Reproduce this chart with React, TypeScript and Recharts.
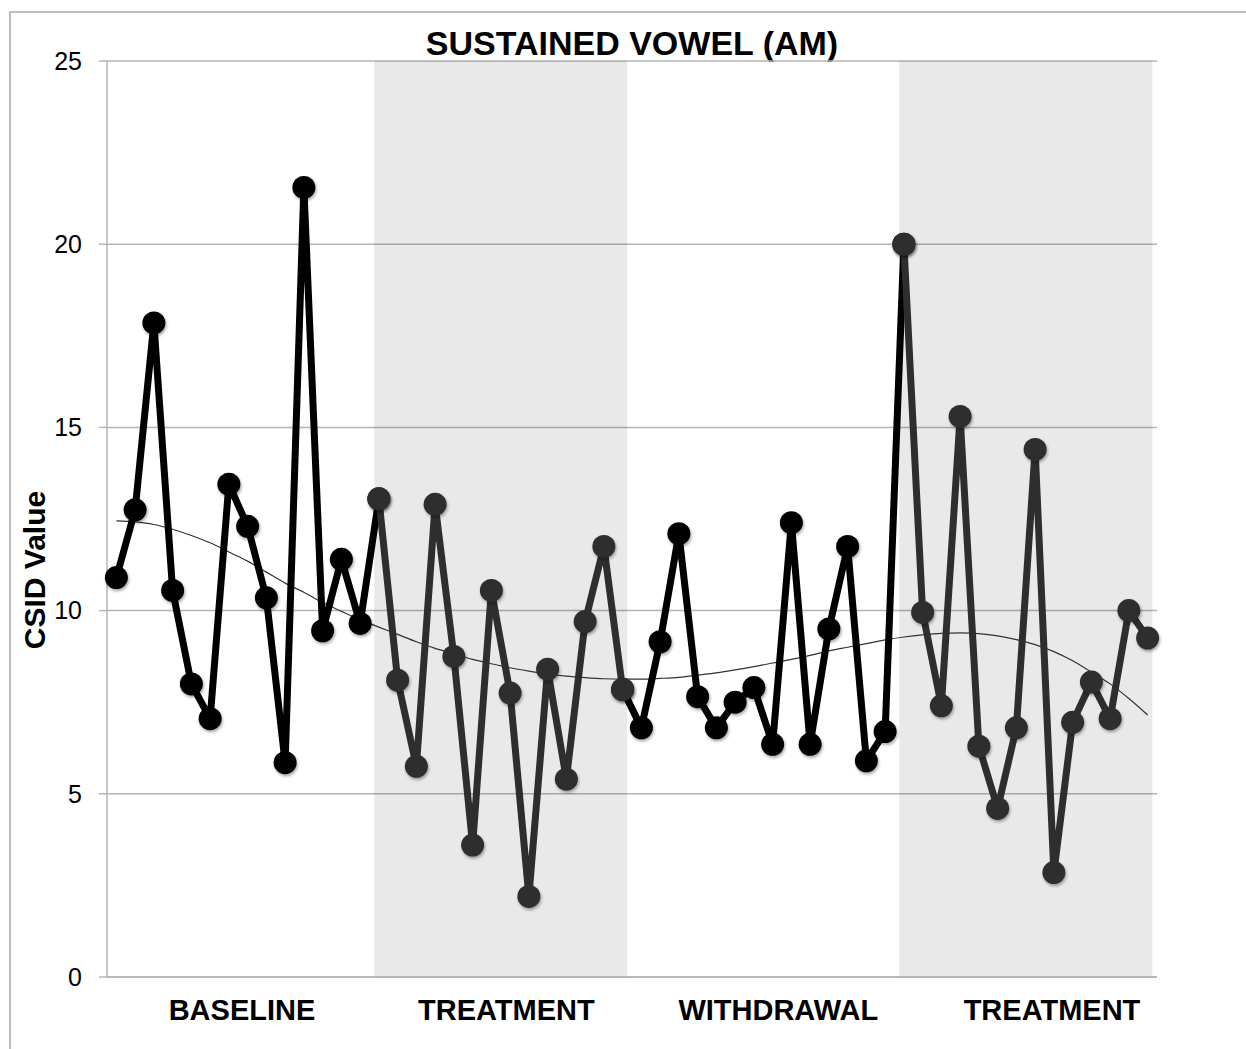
import { LineChart, Line, XAxis, YAxis, CartesianGrid, ReferenceArea } from "recharts";

const baseline = [10.9, 12.75, 17.85, 10.55, 8.0, 7.05, 13.45, 12.3, 10.35, 5.85, 21.55, 9.45, 11.4, 9.65];
const treatmentA = [13.05, 8.1, 5.75, 12.9, 8.75, 3.6, 10.55, 7.75, 2.2, 8.4, 5.4, 9.7, 11.75, 7.85];
const withdrawal = [6.8, 9.15, 12.1, 7.65, 6.8, 7.5, 7.9, 6.35, 12.4, 6.35, 9.5, 11.75, 5.9, 6.7];
const treatmentB = [20.0, 9.95, 7.4, 15.3, 6.3, 4.6, 6.8, 14.4, 2.85, 6.95, 8.05, 7.05, 10.0, 9.25];

// polynomial trend line, one value per session
const trend = [
  12.45, 12.42, 12.35, 12.22, 12.05, 11.85, 11.6, 11.35, 11.05, 10.75, 10.5, 10.22, 9.98, 9.75,
  9.55, 9.35, 9.15, 8.97, 8.82, 8.67, 8.55, 8.44, 8.35, 8.27, 8.21, 8.17, 8.14, 8.13,
  8.13, 8.15, 8.18, 8.24, 8.3, 8.38, 8.47, 8.57, 8.67, 8.78, 8.9, 9.0, 9.1, 9.2,
  9.28, 9.34, 9.38, 9.39, 9.37, 9.31, 9.21, 9.07, 8.88, 8.63, 8.32, 8.0, 7.6, 7.15,
];

const phases = [
  { name: "BASELINE", values: baseline, labelAt: 6.7 },
  { name: "TREATMENT", values: treatmentA, labelAt: 20.8 },
  { name: "WITHDRAWAL", values: withdrawal, labelAt: 35.3 },
  { name: "TREATMENT", values: treatmentB, labelAt: 49.9 },
];

const yTicks = [0, 5, 10, 15, 20, 25];

const FONT = "'Liberation Sans', Arial, Helvetica, sans-serif";
const GRID = "#b4b4b4";
const DARK = "#000000";
const LIGHT = "#2e2e2e";

// treatment phases are drawn in grey; the black line carries over to the
// first point of the following phase
const rows: { idx: number; dark: number | null; light: number | null; trend: number }[] = [];
phases.forEach((ph, p) => {
  const n = ph.values.length;
  ph.values.forEach((v, k) => {
    const treat = p % 2 === 1;
    const dark = !treat || k === 0 || (k === n - 1 && p < phases.length - 1) ? v : null;
    rows.push({ idx: rows.length, dark, light: treat ? v : null, trend: trend[rows.length] });
  });
});

const shaded = phases
  .map((ph, p) => {
    const start = phases.slice(0, p).reduce((s, q) => s + q.values.length, 0);
    return { p, x1: start - 0.25, x2: start + ph.values.length - 0.75 };
  })
  .filter((s) => s.p % 2 === 1);

const makeDot = (color: string) => (props: any) => {
  const { cx, cy, value, index } = props;
  if (value == null || cy == null) return <g key={`d-${color}-${index}`} />;
  return (
    <circle
      key={`d-${color}-${index}`}
      cx={cx}
      cy={cy}
      r={11.5}
      fill={color}
      filter="url(#dotShadow)"
    />
  );
};

const PhaseTick = (props: any) => {
  const { x, y, payload } = props;
  const ph = phases.find((q) => q.labelAt === payload.value);
  return (
    <text
      x={x}
      y={y + 35}
      textAnchor="middle"
      fontFamily={FONT}
      fontWeight="bold"
      fontSize={29}
      fill="#000"
    >
      {ph ? ph.name : ""}
    </text>
  );
};

export default function App() {
  return (
    <div
      style={{
        position: "absolute",
        left: 0,
        top: 0,
        width: 1246,
        height: 1049,
        background: "#fff",
        overflow: "hidden",
        fontFamily: FONT,
      }}
    >
      <div
        style={{
          position: "absolute",
          left: 9,
          top: 11,
          width: 1300,
          height: 1100,
          borderTop: "2px solid #bdbdbd",
          borderLeft: "2px solid #bdbdbd",
        }}
      />
      <div
        style={{
          position: "absolute",
          left: 107,
          width: 1050,
          top: 23,
          textAlign: "center",
          fontSize: 34,
          fontWeight: "bold",
          lineHeight: "40px",
        }}
      >
        SUSTAINED VOWEL (AM)
      </div>
      <div
        style={{
          position: "absolute",
          left: 35 - 150,
          top: 570 - 20,
          width: 300,
          height: 40,
          lineHeight: "40px",
          textAlign: "center",
          fontSize: 30,
          fontWeight: "bold",
          transform: "rotate(-90deg)",
        }}
      >
        CSID Value
      </div>
      <div style={{ position: "absolute", left: 0, top: 0 }}>
        <LineChart
          width={1246}
          height={1049}
          data={rows}
          margin={{ top: 61, right: 89, bottom: 12, left: 47 }}
        >
          <defs>
            <filter id="dotShadow" x="-50%" y="-50%" width="200%" height="200%">
              <feDropShadow dx="1" dy="2" stdDeviation="1.5" floodColor="#000" floodOpacity="0.35" />
            </filter>
          </defs>
          <CartesianGrid vertical={false} stroke={GRID} strokeWidth={1.5} />
          {shaded.map((s) => (
            <ReferenceArea
              key={s.p}
              x1={s.x1}
              x2={s.x2}
              y1={0}
              y2={25}
              fill="#000"
              fillOpacity={0.085}
              stroke="none"
            />
          ))}
          <XAxis
            dataKey="idx"
            type="number"
            domain={[-0.5, 55.5]}
            ticks={phases.map((p) => p.labelAt)}
            interval={0}
            tickLine={false}
            axisLine={{ stroke: GRID, strokeWidth: 1.5 }}
            tick={<PhaseTick />}
            height={60}
          />
          <YAxis
            domain={[0, 25]}
            ticks={yTicks}
            width={60}
            tickSize={8}
            tickMargin={17}
            axisLine={{ stroke: GRID, strokeWidth: 1.5 }}
            tickLine={{ stroke: GRID, strokeWidth: 1.5 }}
            tick={{ fontSize: 25, fill: "#000", fontFamily: FONT }}
          />
          <Line
            dataKey="trend"
            type="monotone"
            stroke="#333"
            strokeWidth={1.2}
            dot={false}
            activeDot={false}
            isAnimationActive={false}
          />
          <Line
            dataKey="dark"
            type="linear"
            stroke={DARK}
            strokeWidth={7}
            strokeLinejoin="round"
            dot={makeDot(DARK)}
            activeDot={false}
            isAnimationActive={false}
          />
          <Line
            dataKey="light"
            type="linear"
            stroke={LIGHT}
            strokeWidth={7}
            strokeLinejoin="round"
            dot={makeDot(LIGHT)}
            activeDot={false}
            isAnimationActive={false}
          />
        </LineChart>
      </div>
    </div>
  );
}
